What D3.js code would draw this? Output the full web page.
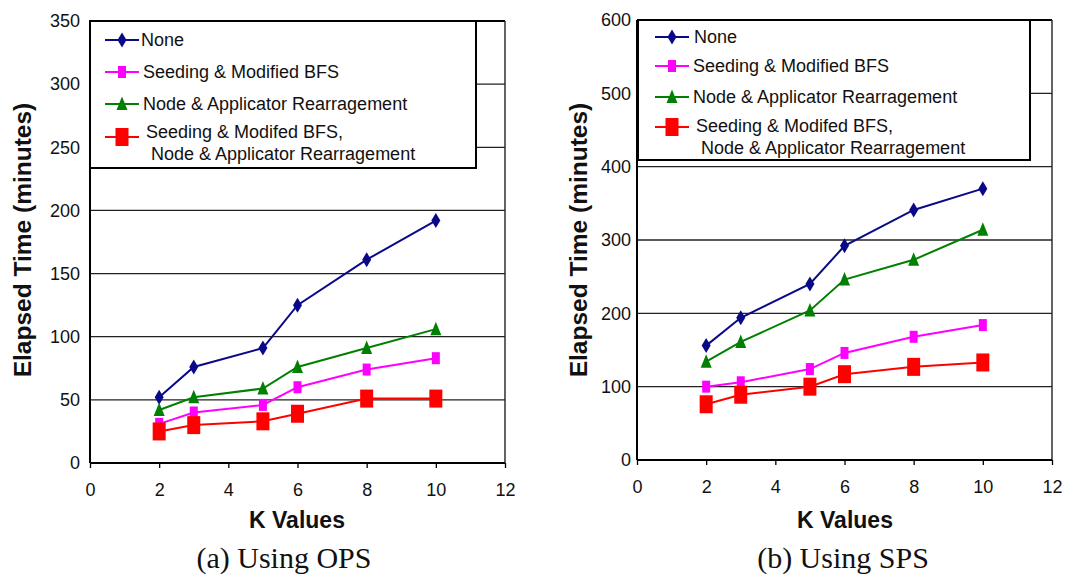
<!DOCTYPE html>
<html><head><meta charset="utf-8">
<script src="https://cdn.jsdelivr.net/npm/d3@7/dist/d3.min.js"></script>
<style>body{margin:0;background:#fff;} svg{display:block;}</style>
</head><body>
<svg id="c" width="1089" height="574"></svg>
<script>
const kValues = [2, 3, 5, 6, 8, 10];
const seriesNames = ["None", "Seeding & Modified BFS", "Node & Applicator Rearragement", "Seeding & Modifed BFS,|Node & Applicator Rearragement"];
const opsNone = [52, 76, 91, 125, 161, 192];
const opsSeed = [31, 40, 46, 60, 74, 83];
const opsNode = [42, 52, 59, 76, 91, 106];
const opsBoth = [25, 30, 33, 39, 51, 51];
const spsNone = [156, 194, 240, 292, 341, 370];
const spsSeed = [100, 106, 124, 146, 168, 184];
const spsNode = [134, 161, 204, 246, 273, 314];
const spsBoth = [76, 89, 100, 117, 127, 133];
const xTicks = [0, 2, 4, 6, 8, 10, 12];
const opsYTicks = [0, 50, 100, 150, 200, 250, 300, 350];
const spsYTicks = [0, 100, 200, 300, 400, 500, 600];

const colors = ["#0a0a88", "#ff00ff", "#008000", "#ff0000"];
const svg = d3.select("#c");
const sans = "Liberation Sans, Arial, Helvetica, sans-serif";

function marker(g, type, cx, cy, color) {
  if (type === 0) {
    g.append("path").attr("d", `M${cx},${cy-7.5}L${cx+4.5},${cy}L${cx},${cy+7.5}L${cx-4.5},${cy}Z`).attr("fill", color);
  } else if (type === 1) {
    g.append("rect").attr("x", cx-4).attr("y", cy-6).attr("width", 8).attr("height", 12).attr("fill", color);
  } else if (type === 2) {
    g.append("path").attr("d", `M${cx},${cy-7.5}L${cx+5.5},${cy+6}L${cx-5.5},${cy+6}Z`).attr("fill", color);
  } else {
    g.append("rect").attr("x", cx-6.5).attr("y", cy-9).attr("width", 13).attr("height", 18).attr("fill", color);
  }
}

function drawChart(o) {
  const x = d3.scaleLinear().domain([0, 12]).range([o.left, o.right]);
  const y = d3.scaleLinear().domain([0, o.yMax]).range([o.bottom, o.top]);
  const g = svg.append("g");

  // gridlines
  g.append("g").selectAll("line").data(o.yTicks.filter(v => v > 0 && v < o.yMax)).join("line")
    .attr("x1", o.left).attr("x2", o.right).attr("y1", d => y(d)).attr("y2", d => y(d))
    .attr("stroke", "#222").attr("stroke-width", 1.3);
  // frame top/right
  g.append("line").attr("x1", o.left).attr("x2", o.right).attr("y1", o.top).attr("y2", o.top).attr("stroke", "#000").attr("stroke-width", 2);
  g.append("line").attr("x1", o.right).attr("x2", o.right).attr("y1", o.top).attr("y2", o.bottom).attr("stroke", "#222").attr("stroke-width", 1.4);

  // axes
  const xAxis = d3.axisBottom(x).tickValues(xTicks).tickSize(5).tickPadding(15);
  const xa = g.append("g").attr("transform", `translate(0,${o.bottom})`).call(xAxis);
  xa.select(".domain").attr("stroke", "#000").attr("stroke-width", 2).attr("d", `M${o.left},0H${o.right}`);
  xa.selectAll(".tick line").attr("stroke", "#000").attr("stroke-width", 1.3);
  xa.selectAll("text").attr("font-family", sans).attr("font-size", 18).attr("fill", "#111");

  const yAxis = d3.axisLeft(y).tickValues(o.yTicks).tickSize(0).tickPadding(o.yPad);
  const ya = g.append("g").attr("transform", `translate(${o.left},0)`).call(yAxis);
  ya.select(".domain").attr("stroke", "#000").attr("stroke-width", 2).attr("d", `M0,${o.top}V${o.bottom}`);
  ya.selectAll("text").attr("font-family", sans).attr("font-size", 18).attr("fill", "#111");

  // lines and markers
  const line = d3.line().x((d, i) => x(kValues[i])).y(d => y(d));
  o.series.forEach((vals, si) => {
    g.append("path").attr("d", line(vals)).attr("fill", "none").attr("stroke", colors[si]).attr("stroke-width", 2);
  });
  o.series.forEach((vals, si) => {
    vals.forEach((v, i) => marker(g, si, x(kValues[i]), y(v), colors[si]));
  });

  // legend
  const L = o.legend;
  g.append("rect").attr("x", L.x0).attr("y", L.y0).attr("width", L.x1 - L.x0).attr("height", L.y1 - L.y0)
    .attr("fill", "#fff").attr("stroke", "#000").attr("stroke-width", 2);
  seriesNames.forEach((name, si) => {
    const ly = L.rows[si];
    g.append("line").attr("x1", L.lx).attr("x2", L.lx + 34).attr("y1", ly).attr("y2", ly).attr("stroke", colors[si]).attr("stroke-width", 2);
    marker(g, si, L.lx + 17, ly, colors[si]);
    const parts = name.split("|");
    parts.forEach((p, pi) => {
      const t = L.texts[si][pi];
      g.append("text").attr("x", t[0]).attr("y", t[1]).attr("dy", "0.36em")
        .attr("font-family", sans).attr("font-size", 18).attr("fill", "#111").text(p);
    });
  });

  // titles
  g.append("text").attr("transform", `translate(${o.yTitleX},${o.yTitleY}) rotate(-90)`)
    .attr("text-anchor", "middle").attr("dy", "0.36em").attr("font-family", sans).attr("font-weight", "bold")
    .attr("font-size", 24.5).attr("fill", "#111").text("Elapsed Time (minutes)");
  g.append("text").attr("x", o.xTitleX).attr("y", 520).attr("text-anchor", "middle").attr("dy", "0.36em")
    .attr("font-family", sans).attr("font-weight", "bold").attr("font-size", 23).attr("fill", "#111").text("K Values");
  g.append("text").attr("x", o.capX).attr("y", 557).attr("text-anchor", "middle").attr("dy", "0.36em")
    .attr("font-family", "Liberation Serif, Times New Roman, serif").attr("font-size", 30).attr("fill", "#111").text(o.caption);
}

drawChart({
  left: 90, right: 505, top: 21, bottom: 463, yMax: 350, yTicks: opsYTicks, yPad: 10,
  series: [opsNone, opsSeed, opsNode, opsBoth],
  legend: {x0: 90, x1: 476, y0: 21, y1: 168, lx: 105, rows: [40, 72, 104, 137],
    texts: [[[141, 40]], [[143, 72]], [[143, 104]], [[146, 132], [151, 154]]]},
  yTitleX: 22, yTitleY: 240, xTitleX: 297, capX: 284, caption: "(a) Using OPS"
});
drawChart({
  left: 637, right: 1052, top: 20, bottom: 460, yMax: 600, yTicks: spsYTicks, yPad: 6,
  series: [spsNone, spsSeed, spsNode, spsBoth],
  legend: {x0: 638, x1: 1030, y0: 20, y1: 160, lx: 655, rows: [37, 66, 97, 127],
    texts: [[[694, 37]], [[693, 66]], [[693, 97]], [[696, 126], [701, 148]]]},
  yTitleX: 578, yTitleY: 240, xTitleX: 845, capX: 843, caption: "(b) Using SPS"
});
</script>
</body></html>
